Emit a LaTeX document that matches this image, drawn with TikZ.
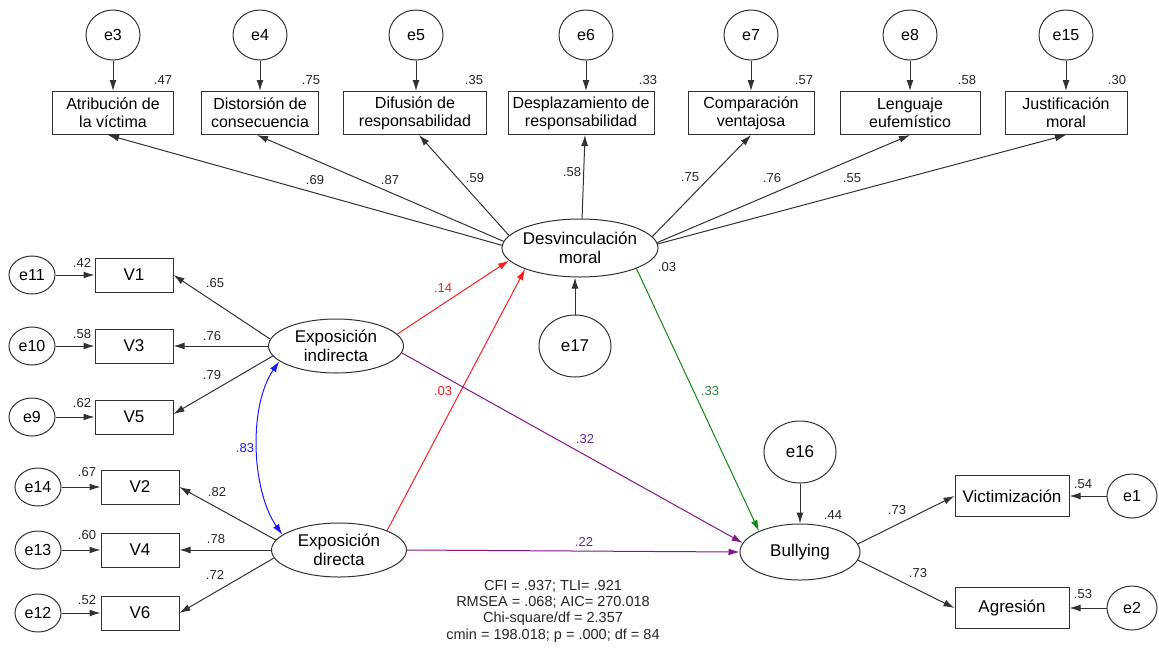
\documentclass[tikz,border=0pt]{standalone}
\usepackage{fontspec}
\setmainfont{Liberation Sans}
\usetikzlibrary{shapes.geometric,arrows.meta}
\definecolor{lineGray}{RGB}{50,50,50}
\definecolor{pathRed}{RGB}{255,30,30}
\definecolor{pathPurple}{RGB}{135,20,140}
\definecolor{labPurple}{RGB}{95,40,160}
\definecolor{pathGreen}{RGB}{20,135,20}
\definecolor{labGreen}{RGB}{40,130,60}
\definecolor{pathBlue}{RGB}{25,25,255}
\newcommand{\fsize}[2]{\fontsize{#1}{#2}\selectfont}

\begin{document}
\begin{tikzpicture}[x=1pt, y=-1pt, line width=1pt]
  \tikzset{
    obs/.style={draw=lineGray, rectangle, inner sep=0pt, align=center, font=\fsize{16}{18}},
    lat/.style={draw=lineGray, ellipse, inner sep=0pt, align=center, font=\fsize{17}{19}},
    err/.style={draw=lineGray, ellipse, inner sep=0pt, font=\fsize{16}{18}},
    arr/.style={draw=lineGray, -{Latex[length=11pt,width=7pt]}},
    coef/.style={inner sep=0pt, text=black!85, font=\fsize{13}{15}}
  }
  \useasboundingbox (0,0) rectangle (1159,649);

  \node[obs, minimum width=121pt, minimum height=43pt] (atrib) at (113,113) {Atribución de\\la víctima};
  \node[obs, minimum width=117pt, minimum height=43pt] (distor) at (260,113) {Distorsión de\\consecuencia};
  \node[obs, minimum width=143pt, minimum height=43pt] (difus) at (415,113) {Difusión de\\responsabilidad};
  \node[obs, minimum width=146pt, minimum height=43pt] (despl) at (581,113) {Desplazamiento de\\responsabilidad};
  \node[obs, minimum width=126pt, minimum height=43pt] (compar) at (751,113) {Comparación\\ventajosa};
  \node[obs, minimum width=140pt, minimum height=43pt] (leng) at (910,113) {Lenguaje\\eufemístico};
  \node[obs, minimum width=122pt, minimum height=43pt] (justif) at (1066,113) {Justificación\\moral};

  \node[err, minimum width=54pt, minimum height=50pt] (e3) at (113,35) {e3};
  \node[err, minimum width=54pt, minimum height=50pt] (e4) at (260,35) {e4};
  \node[err, minimum width=54pt, minimum height=50pt] (e5) at (416,35) {e5};
  \node[err, minimum width=54pt, minimum height=50pt] (e6) at (586,35) {e6};
  \node[err, minimum width=54pt, minimum height=50pt] (e7) at (751,35) {e7};
  \node[err, minimum width=54pt, minimum height=50pt] (e8) at (910,35) {e8};
  \node[err, minimum width=54pt, minimum height=50pt] (e15) at (1066,35) {e15};

  \draw[arr] (e3) -- (atrib);
  \draw[arr] (e4) -- (distor);
  \draw[arr] (e5.south) -- (e5.south |- difus.north);
  \draw[arr] (e6.south) -- (e6.south |- despl.north);
  \draw[arr] (e7) -- (compar);
  \draw[arr] (e8) -- (leng);
  \draw[arr] (e15) -- (justif);

  \node[coef] (sq-atrib) at (163,80) {.47};
  \node[coef] (sq-distor) at (311,80) {.75};
  \node[coef] (sq-difus) at (474,80) {.35};
  \node[coef] (sq-despl) at (648,80) {.33};
  \node[coef] (sq-compar) at (804,80) {.57};
  \node[coef] (sq-leng) at (967,80) {.58};
  \node[coef] (sq-justif) at (1117,80) {.30};

  \node[lat, inner xsep=-3pt, minimum width=156pt, minimum height=58pt] (desv) at (580,248) {Desvinculación\\moral};
  \node[err, minimum width=72pt, minimum height=62pt, font=\fsize{17}{19}] (e17) at (575,346) {e17};
  \draw[arr] (e17.north) -- (e17.north |- desv.south);
  \node[coef] (sq-desv) at (667,267) {.03};

  \draw[arr] (desv.178) -- ([xshift=-5pt]atrib.south);
  \draw[arr] (desv.175) -- ([xshift=-3pt]distor.south);
  \draw[arr] (desv.170) -- ([xshift=4pt]difus.south);
  \draw[arr] (desv.86) -- ([xshift=4pt]despl.south);
  \draw[arr] (desv.9) -- (compar.south);
  \draw[arr] (desv.4) -- (leng.south);
  \draw[arr] (desv.3) -- (justif.south);

  \node[coef] (ld-atrib) at (315,180) {.69};
  \node[coef] (ld-distor) at (390,180) {.87};
  \node[coef] (ld-difus) at (475,178) {.59};
  \node[coef] (ld-despl) at (572,172) {.58};
  \node[coef] (ld-compar) at (690,177) {.75};
  \node[coef] (ld-leng) at (772,178) {.76};
  \node[coef] (ld-justif) at (852,178) {.55};

  \node[lat, minimum width=135pt, minimum height=54pt] (expind) at (336,346) {Exposición\\indirecta};
  \node[lat, minimum width=135pt, minimum height=54pt] (expdir) at (339,550) {Exposición\\directa};

  \node[obs, minimum width=78pt, minimum height=34pt, font=\fsize{17}{19}] (v1) at (134,275) {V1};
  \node[obs, minimum width=78pt, minimum height=34pt, font=\fsize{17}{19}] (v3) at (134,346) {V3};
  \node[obs, minimum width=78pt, minimum height=34pt, font=\fsize{17}{19}] (v5) at (134,417) {V5};
  \node[obs, minimum width=78pt, minimum height=34pt, font=\fsize{17}{19}] (v2) at (140,487) {V2};
  \node[obs, minimum width=78pt, minimum height=34pt, font=\fsize{17}{19}] (v4) at (140,550) {V4};
  \node[obs, minimum width=78pt, minimum height=34pt, font=\fsize{17}{19}] (v6) at (140,613) {V6};

  \node[err, minimum width=46pt, minimum height=38pt] (e11) at (32,275) {e11};
  \node[err, minimum width=46pt, minimum height=38pt] (e10) at (32,346) {e10};
  \node[err, minimum width=46pt, minimum height=38pt] (e9) at (32,417) {e9};
  \node[err, minimum width=46pt, minimum height=38pt] (e14) at (38,487) {e14};
  \node[err, minimum width=46pt, minimum height=38pt] (e13) at (38,550) {e13};
  \node[err, minimum width=46pt, minimum height=38pt] (e12) at (38,613) {e12};

  \draw[arr] (e11) -- (v1);
  \draw[arr] (e10) -- (v3);
  \draw[arr] (e9) -- (v5);
  \draw[arr] (e14) -- (v2);
  \draw[arr] (e13) -- (v4);
  \draw[arr] (e12) -- (v6);

  \node[coef] (sq-v1) at (82,263) {.42};
  \node[coef] (sq-v3) at (82,334) {.58};
  \node[coef] (sq-v5) at (82,403) {.62};
  \node[coef] (sq-v2) at (87,472) {.67};
  \node[coef] (sq-v4) at (87,535) {.60};
  \node[coef] (sq-v6) at (87,600) {.52};

  \draw[arr] (expind.174) -- (v1.east);
  \draw[arr] (expind.west) -- (v3.east);
  \draw[arr] (expind.189) -- ([yshift=3pt]v5.east);
  \draw[arr] (expdir.171) -- (v2.east);
  \draw[arr] (expdir.west) -- (v4.east);
  \draw[arr] (expdir.187) -- (v6.east);

  \node[coef] (ld-v1) at (215,283) {.65};
  \node[coef] (ld-v3) at (212,336) {.76};
  \node[coef] (ld-v5) at (212,375) {.79};
  \node[coef] (ld-v2) at (217,492) {.82};
  \node[coef] (ld-v4) at (216,539) {.78};
  \node[coef] (ld-v6) at (215,575) {.72};

  \draw[pathBlue, {Latex[length=11pt,width=7pt]}-{Latex[length=11pt,width=7pt]}]
    (expind.195) .. controls +(-31,45) and +(-31,-45) .. (expdir.165);
  \node[coef, text=pathBlue] (cv-exp) at (245,448) {.83};

  \node[lat, minimum width=120pt, minimum height=56pt] (bully) at (800,552) {Bullying};
  \node[err, minimum width=72pt, minimum height=62pt, font=\fsize{17}{19}] (e16) at (800,452) {e16};
  \draw[arr] (e16) -- (bully);
  \node[coef] (sq-bully) at (833,515) {.44};

  \draw[arr, draw=pathRed] (expind.11) -- (desv.190);
  \draw[arr, draw=pathRed] (expdir.22) -- (desv.201);
  \draw[arr, draw=pathPurple] (expind.354) -- (bully.171);
  \draw[arr, draw=pathPurple] (expdir.east) -- (bully.west);
  \draw[arr, draw=pathGreen] (desv.340) -- (bully.153);

  \node[coef, text=pathRed] (rg-ind) at (443,288) {.14};
  \node[coef, text=pathRed] (rg-dir) at (443,391) {.03};
  \node[coef, text=labPurple] (rg-indb) at (585,439) {.32};
  \node[coef, text=labPurple] (rg-dirb) at (584,542) {.22};
  \node[coef, text=labGreen] (rg-desvb) at (710,391) {.33};

  \node[obs, minimum width=114pt, minimum height=41pt, font=\fsize{17}{19}] (vict) at (1012,496) {Victimización};
  \node[obs, minimum width=114pt, minimum height=41pt, font=\fsize{17}{19}] (agres) at (1012,608) {Agresión};
  \node[err, minimum width=50pt, minimum height=44pt] (e1) at (1132,496) {e1};
  \node[err, minimum width=50pt, minimum height=44pt] (e2) at (1132,608) {e2};

  \draw[arr] (bully.8) -- (vict.west);
  \draw[arr] (bully.352) -- (agres.west);
  \draw[arr] (e1) -- (vict);
  \draw[arr] (e2) -- (agres);

  \node[coef] (ld-vict) at (897,510) {.73};
  \node[coef] (ld-agres) at (918,573) {.73};
  \node[coef] (sq-vict) at (1083,484) {.54};
  \node[coef] (sq-agres) at (1083,594) {.53};

  \node[align=center, inner sep=0pt, text=black!85, font=\fsize{14.5}{16.3}] (fit) at (553,611)
    {CFI = .937; TLI= .921\\RMSEA = .068; AIC= 270.018\\Chi-square/df = 2.357\\cmin = 198.018; p = .000; df = 84};
\end{tikzpicture}
\end{document}
